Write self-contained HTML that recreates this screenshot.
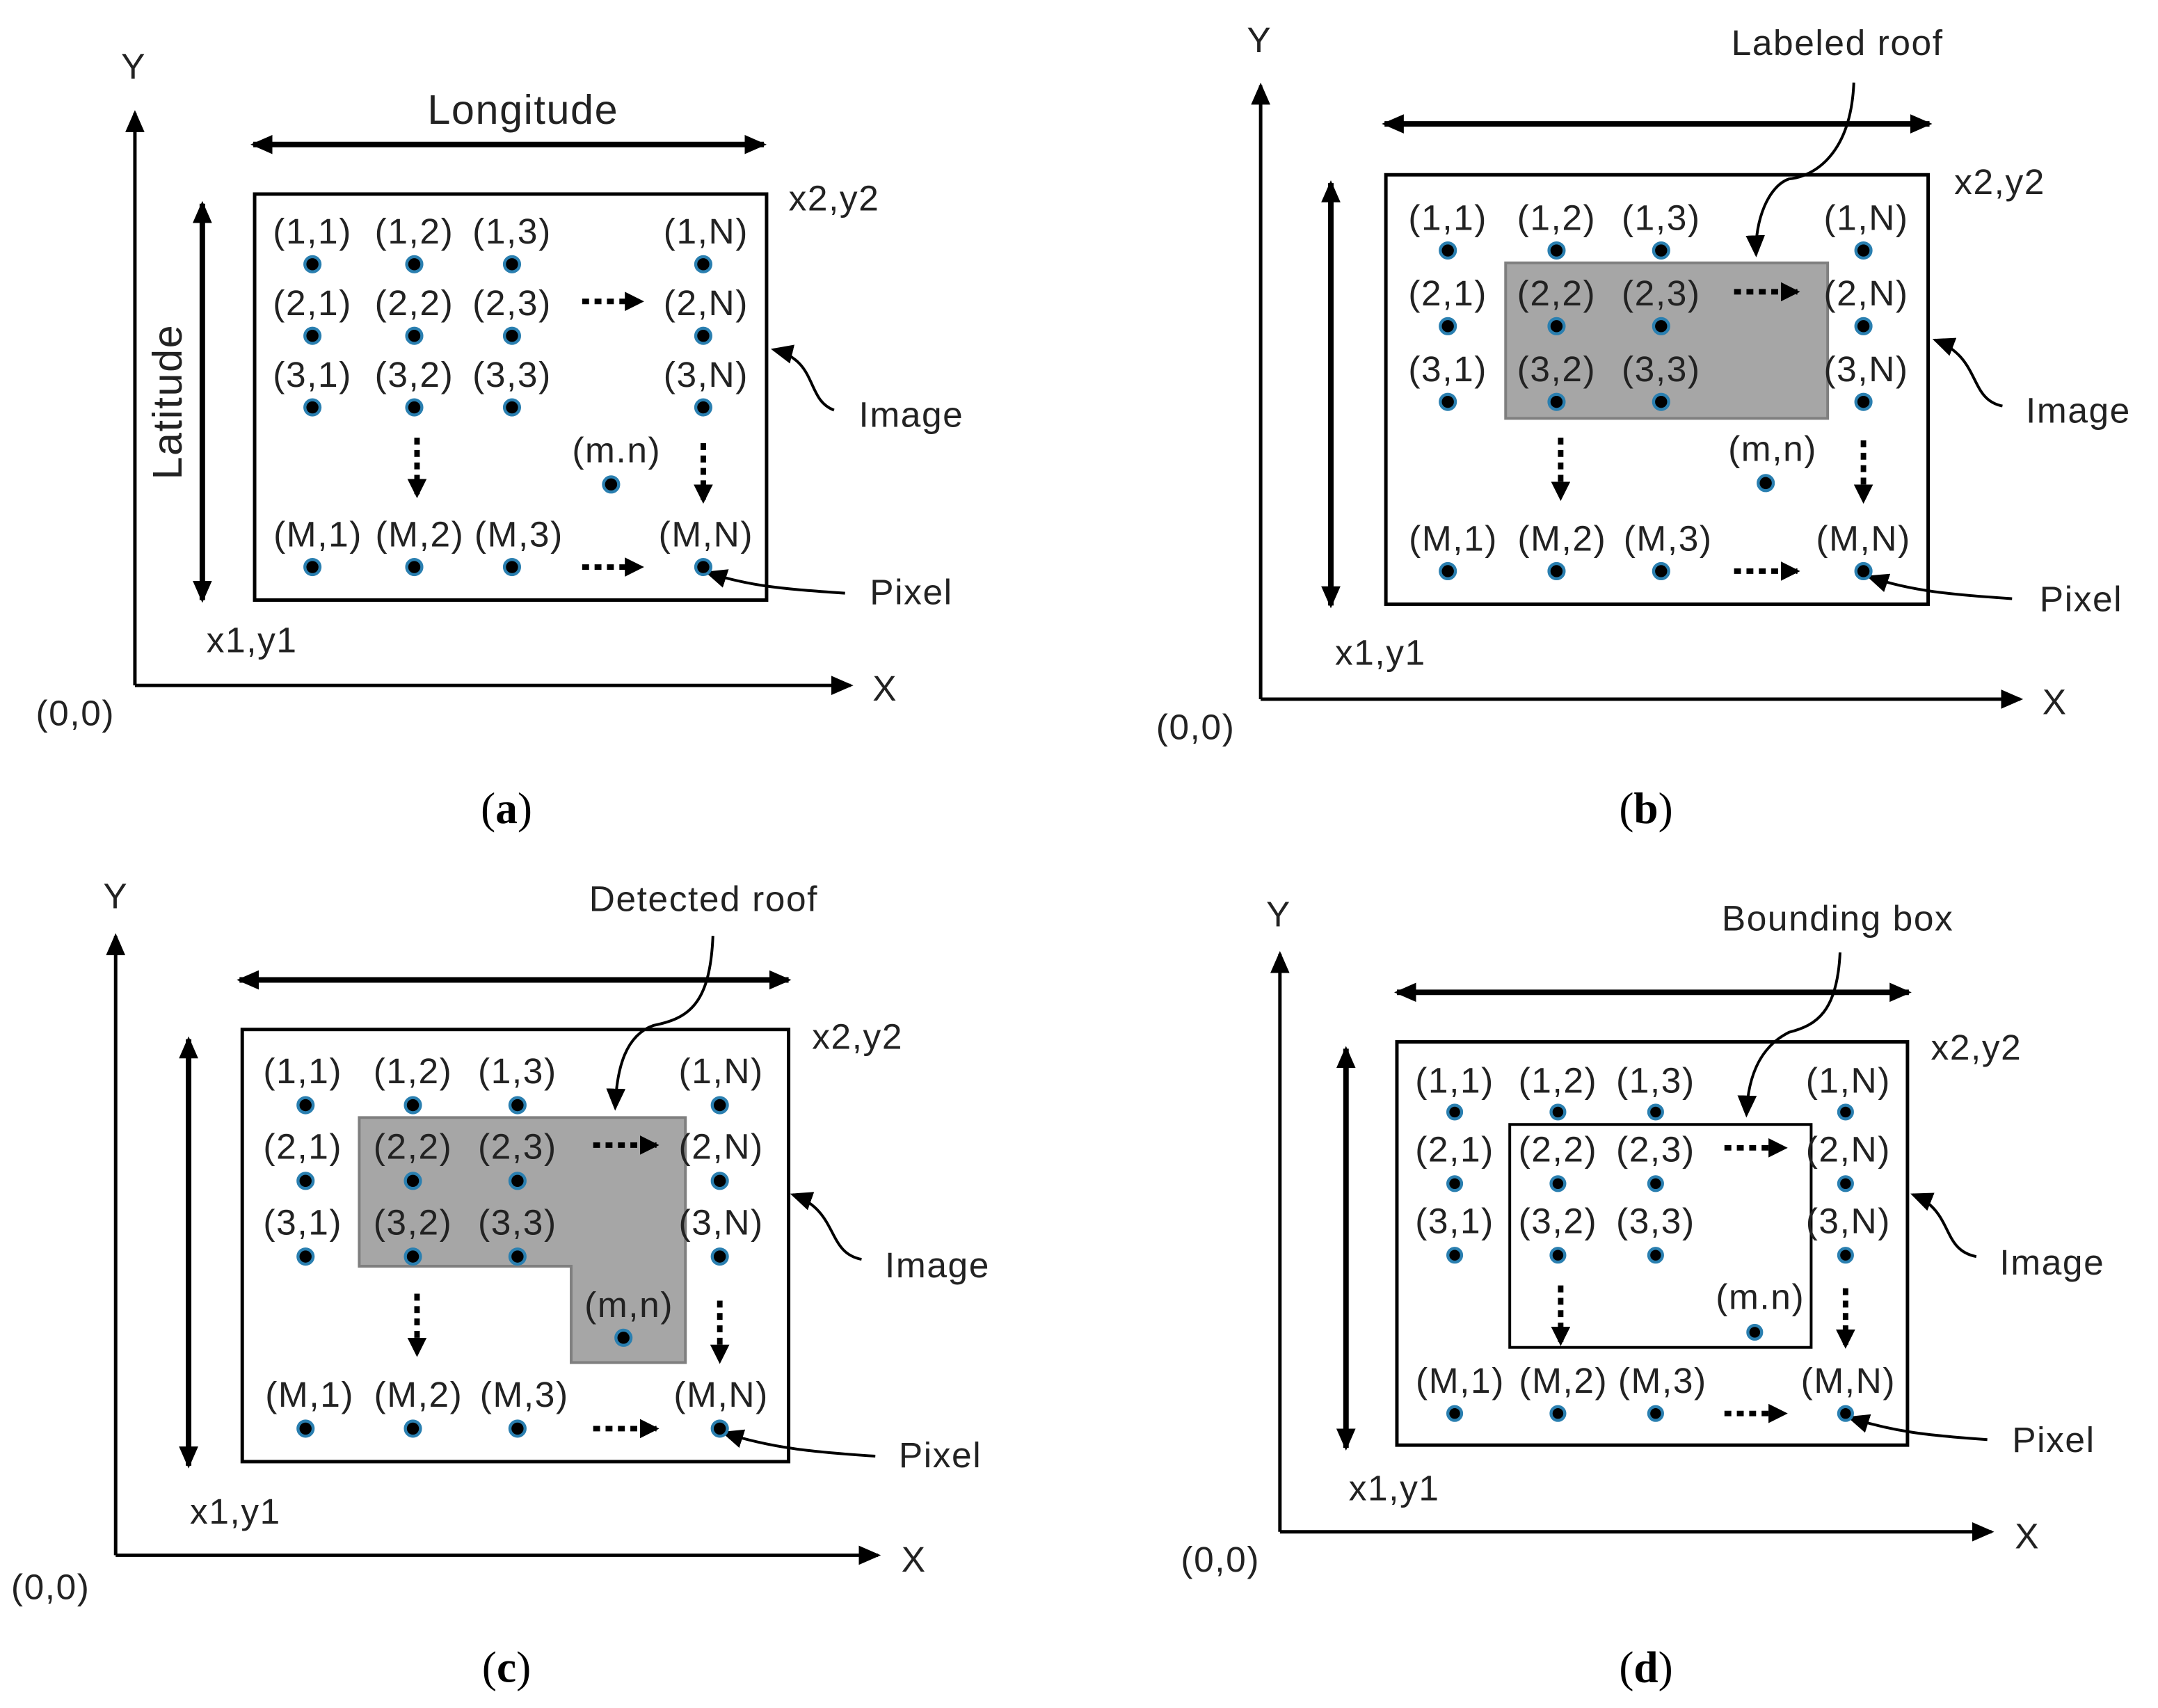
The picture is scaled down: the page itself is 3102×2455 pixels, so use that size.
<!DOCTYPE html>
<html><head><meta charset="utf-8"><style>
html,body{margin:0;padding:0;background:#fff}
svg{display:block}
text{font-family:"Liberation Sans","DejaVu Sans",sans-serif;fill:#222}
.t{font-size:26px;text-anchor:middle;letter-spacing:0.8px}
.l{font-size:26px;letter-spacing:0.8px}
.cap{font-family:"Liberation Serif",serif;font-size:32px;text-anchor:middle;fill:#000}
.ax{stroke:#000;stroke-width:2.5;fill:none}
.dbl{stroke:#000;stroke-width:4;fill:none}
.box{stroke:#000;stroke-width:2.5;fill:#fff}
.dot{fill:#000;stroke:#2a7fb0;stroke-width:2.2}
.dsh{stroke:#000;stroke-width:4;stroke-dasharray:5 4;fill:none}
.cv{stroke:#000;stroke-width:2;fill:none}
</style></head><body>
<svg width="3102" height="2455" viewBox="0 0 1568 1241" xmlns="http://www.w3.org/2000/svg">
<defs>
<marker id="a" markerUnits="userSpaceOnUse" markerWidth="16" markerHeight="14" refX="14" refY="7" orient="auto"><path d="M0,0 L16,7 L0,14 Z" fill="#000"/></marker>
<marker id="as" markerUnits="userSpaceOnUse" markerWidth="16" markerHeight="14" refX="14" refY="7" orient="auto-start-reverse"><path d="M0,0 L16,7 L0,14 Z" fill="#000"/></marker>
<marker id="d" markerUnits="userSpaceOnUse" markerWidth="14" markerHeight="14" refX="12" refY="7" orient="auto"><path d="M0,0 L14,7 L0,14 Z" fill="#000"/></marker>
</defs>

<!-- ===== (a) ===== -->
<line class="ax" x1="98" y1="498" x2="98" y2="82" marker-end="url(#a)"/>
<line class="ax" x1="98" y1="498" x2="618" y2="498" marker-end="url(#a)"/>
<text class="l" x="88" y="57">Y</text>
<text class="l" x="634" y="509">X</text>
<text class="l" x="26" y="527">(0,0)</text>
<line class="dbl" x1="184" y1="105" x2="555" y2="105" marker-start="url(#as)" marker-end="url(#a)"/>
<text class="t" x="380" y="90" style="font-size:30px">Longitude</text>
<line class="dbl" x1="147" y1="148" x2="147" y2="436" marker-start="url(#as)" marker-end="url(#a)"/>
<text class="t" x="132" y="292" style="font-size:30px" transform="rotate(-90 132 292)">Latitude</text>
<rect class="box" x="185" y="141" width="372" height="295"/>
<text class="l" x="573" y="153">x2,y2</text>
<text class="l" x="150" y="474">x1,y1</text>
<text class="l" x="624" y="310">Image</text>
<text class="l" x="632" y="439">Pixel</text>
<path class="cv" d="M606,298 C585,290 595,262 562,254" marker-end="url(#a)"/>
<path class="cv" d="M614,431 C570,428 545,426 514,416" marker-end="url(#a)"/>
<g>
<text class="t" x="227" y="177">(1,1)</text><text class="t" x="301" y="177">(1,2)</text><text class="t" x="372" y="177">(1,3)</text><text class="t" x="513" y="177">(1,N)</text>
<text class="t" x="227" y="229">(2,1)</text><text class="t" x="301" y="229">(2,2)</text><text class="t" x="372" y="229">(2,3)</text><text class="t" x="513" y="229">(2,N)</text>
<text class="t" x="227" y="281">(3,1)</text><text class="t" x="301" y="281">(3,2)</text><text class="t" x="372" y="281">(3,3)</text><text class="t" x="513" y="281">(3,N)</text>
<text class="t" x="448" y="336">(m.n)</text>
<text class="t" x="231" y="397">(M,1)</text><text class="t" x="305" y="397">(M,2)</text><text class="t" x="377" y="397">(M,3)</text><text class="t" x="513" y="397">(M,N)</text>
<circle class="dot" cx="227" cy="192" r="5.5"/><circle class="dot" cx="301" cy="192" r="5.5"/><circle class="dot" cx="372" cy="192" r="5.5"/><circle class="dot" cx="511" cy="192" r="5.5"/>
<circle class="dot" cx="227" cy="244" r="5.5"/><circle class="dot" cx="301" cy="244" r="5.5"/><circle class="dot" cx="372" cy="244" r="5.5"/><circle class="dot" cx="511" cy="244" r="5.5"/>
<circle class="dot" cx="227" cy="296" r="5.5"/><circle class="dot" cx="301" cy="296" r="5.5"/><circle class="dot" cx="372" cy="296" r="5.5"/><circle class="dot" cx="511" cy="296" r="5.5"/>
<circle class="dot" cx="444" cy="352" r="5.5"/>
<circle class="dot" cx="227" cy="412" r="5.5"/><circle class="dot" cx="301" cy="412" r="5.5"/><circle class="dot" cx="372" cy="412" r="5.5"/><circle class="dot" cx="511" cy="412" r="5.5"/>
<line class="dsh" x1="423" y1="219" x2="466" y2="219" marker-end="url(#d)"/>
<line class="dsh" x1="423" y1="412" x2="466" y2="412" marker-end="url(#d)"/>
<line class="dsh" x1="303" y1="318" x2="303" y2="360" marker-end="url(#d)"/>
<line class="dsh" x1="511" y1="322" x2="511" y2="364" marker-end="url(#d)"/>
</g>
<text class="cap" x="368" y="598">(<tspan font-weight="bold">a</tspan>)</text>

<!-- ===== (b) ===== -->
<line class="ax" x1="916" y1="508" x2="916" y2="62" marker-end="url(#a)"/>
<line class="ax" x1="916" y1="508" x2="1468" y2="508" marker-end="url(#a)"/>
<text class="l" x="906" y="38">Y</text>
<text class="l" x="1484" y="519">X</text>
<text class="l" x="840" y="537">(0,0)</text>
<line class="dbl" x1="1006" y1="90" x2="1402" y2="90" marker-start="url(#as)" marker-end="url(#a)"/>
<line class="dbl" x1="967" y1="133" x2="967" y2="440" marker-start="url(#as)" marker-end="url(#a)"/>
<rect class="box" x="1007" y="127" width="394" height="312"/>
<rect x="1094" y="191" width="234" height="113" fill="#a6a6a6" stroke="#7f7f7f" stroke-width="2"/>
<text class="l" x="1258" y="40">Labeled roof</text>
<path class="cv" d="M1347,60 C1345,110 1320,128 1300,130 C1285,135 1275,160 1276,185" marker-end="url(#a)"/>
<text class="l" x="1420" y="141">x2,y2</text>
<text class="l" x="970" y="483">x1,y1</text>
<text class="l" x="1472" y="307">Image</text>
<text class="l" x="1482" y="444">Pixel</text>
<path class="cv" d="M1455,295 C1430,290 1440,260 1406,247" marker-end="url(#a)"/>
<path class="cv" d="M1462,435 C1420,432 1390,430 1358,419" marker-end="url(#a)"/>
<text class="t" x="1052" y="167">(1,1)</text><text class="t" x="1131" y="167">(1,2)</text><text class="t" x="1207" y="167">(1,3)</text><text class="t" x="1356" y="167">(1,N)</text>
<text class="t" x="1052" y="222">(2,1)</text><text class="t" x="1131" y="222">(2,2)</text><text class="t" x="1207" y="222">(2,3)</text><text class="t" x="1356" y="222">(2,N)</text>
<text class="t" x="1052" y="277">(3,1)</text><text class="t" x="1131" y="277">(3,2)</text><text class="t" x="1207" y="277">(3,3)</text><text class="t" x="1356" y="277">(3,N)</text>
<text class="t" x="1288" y="335">(m,n)</text>
<text class="t" x="1056" y="400">(M,1)</text><text class="t" x="1135" y="400">(M,2)</text><text class="t" x="1212" y="400">(M,3)</text><text class="t" x="1354" y="400">(M,N)</text>
<circle class="dot" cx="1052" cy="182" r="5.5"/><circle class="dot" cx="1131" cy="182" r="5.5"/><circle class="dot" cx="1207" cy="182" r="5.5"/><circle class="dot" cx="1354" cy="182" r="5.5"/>
<circle class="dot" cx="1052" cy="237" r="5.5"/><circle class="dot" cx="1131" cy="237" r="5.5"/><circle class="dot" cx="1207" cy="237" r="5.5"/><circle class="dot" cx="1354" cy="237" r="5.5"/>
<circle class="dot" cx="1052" cy="292" r="5.5"/><circle class="dot" cx="1131" cy="292" r="5.5"/><circle class="dot" cx="1207" cy="292" r="5.5"/><circle class="dot" cx="1354" cy="292" r="5.5"/>
<circle class="dot" cx="1283" cy="351" r="5.5"/>
<circle class="dot" cx="1052" cy="415" r="5.5"/><circle class="dot" cx="1131" cy="415" r="5.5"/><circle class="dot" cx="1207" cy="415" r="5.5"/><circle class="dot" cx="1354" cy="415" r="5.5"/>
<line class="dsh" x1="1260" y1="212" x2="1306" y2="212" marker-end="url(#d)"/>
<line class="dsh" x1="1260" y1="415" x2="1306" y2="415" marker-end="url(#d)"/>
<line class="dsh" x1="1134" y1="318" x2="1134" y2="362" marker-end="url(#d)"/>
<line class="dsh" x1="1354" y1="320" x2="1354" y2="364" marker-end="url(#d)"/>
<text class="cap" x="1196" y="598">(<tspan font-weight="bold">b</tspan>)</text>

<!-- ===== (c) ===== -->
<line class="ax" x1="84" y1="1130" x2="84" y2="680" marker-end="url(#a)"/>
<line class="ax" x1="84" y1="1130" x2="638" y2="1130" marker-end="url(#a)"/>
<text class="l" x="75" y="660">Y</text>
<text class="l" x="655" y="1142">X</text>
<text class="l" x="8" y="1162">(0,0)</text>
<line class="dbl" x1="174" y1="712" x2="573" y2="712" marker-start="url(#as)" marker-end="url(#a)"/>
<line class="dbl" x1="137" y1="755" x2="137" y2="1065" marker-start="url(#as)" marker-end="url(#a)"/>
<rect class="box" x="176" y="748" width="397" height="314"/>
<path d="M261,812 L498,812 L498,990 L415,990 L415,920 L261,920 Z" fill="#a6a6a6" stroke="#7f7f7f" stroke-width="2"/>
<text class="l" x="428" y="662">Detected roof</text>
<path class="cv" d="M518,680 C516,730 500,740 475,745 C455,752 448,775 447,805" marker-end="url(#a)"/>
<text class="l" x="590" y="762">x2,y2</text>
<text class="l" x="138" y="1107">x1,y1</text>
<text class="l" x="643" y="928">Image</text>
<text class="l" x="653" y="1066">Pixel</text>
<path class="cv" d="M626,915 C600,910 610,880 576,868" marker-end="url(#a)"/>
<path class="cv" d="M636,1058 C590,1055 560,1052 526,1041" marker-end="url(#a)"/>
<text class="t" x="220" y="787">(1,1)</text><text class="t" x="300" y="787">(1,2)</text><text class="t" x="376" y="787">(1,3)</text><text class="t" x="524" y="787">(1,N)</text>
<text class="t" x="220" y="842">(2,1)</text><text class="t" x="300" y="842">(2,2)</text><text class="t" x="376" y="842">(2,3)</text><text class="t" x="524" y="842">(2,N)</text>
<text class="t" x="220" y="897">(3,1)</text><text class="t" x="300" y="897">(3,2)</text><text class="t" x="376" y="897">(3,3)</text><text class="t" x="524" y="897">(3,N)</text>
<text class="t" x="457" y="957">(m,n)</text>
<text class="t" x="225" y="1022">(M,1)</text><text class="t" x="304" y="1022">(M,2)</text><text class="t" x="381" y="1022">(M,3)</text><text class="t" x="524" y="1022">(M,N)</text>
<circle class="dot" cx="222" cy="803" r="5.5"/><circle class="dot" cx="300" cy="803" r="5.5"/><circle class="dot" cx="376" cy="803" r="5.5"/><circle class="dot" cx="523" cy="803" r="5.5"/>
<circle class="dot" cx="222" cy="858" r="5.5"/><circle class="dot" cx="300" cy="858" r="5.5"/><circle class="dot" cx="376" cy="858" r="5.5"/><circle class="dot" cx="523" cy="858" r="5.5"/>
<circle class="dot" cx="222" cy="913" r="5.5"/><circle class="dot" cx="300" cy="913" r="5.5"/><circle class="dot" cx="376" cy="913" r="5.5"/><circle class="dot" cx="523" cy="913" r="5.5"/>
<circle class="dot" cx="453" cy="972" r="5.5"/>
<circle class="dot" cx="222" cy="1038" r="5.5"/><circle class="dot" cx="300" cy="1038" r="5.5"/><circle class="dot" cx="376" cy="1038" r="5.5"/><circle class="dot" cx="523" cy="1038" r="5.5"/>
<line class="dsh" x1="431" y1="832" x2="477" y2="832" marker-end="url(#d)"/>
<line class="dsh" x1="431" y1="1038" x2="477" y2="1038" marker-end="url(#d)"/>
<line class="dsh" x1="303" y1="940" x2="303" y2="984" marker-end="url(#d)"/>
<line class="dsh" x1="523" y1="945" x2="523" y2="989" marker-end="url(#d)"/>
<text class="cap" x="368" y="1222">(<tspan font-weight="bold">c</tspan>)</text>

<!-- ===== (d) ===== -->
<line class="ax" x1="930" y1="1113" x2="930" y2="693" marker-end="url(#a)"/>
<line class="ax" x1="930" y1="1113" x2="1447" y2="1113" marker-end="url(#a)"/>
<text class="l" x="920" y="673">Y</text>
<text class="l" x="1464" y="1125">X</text>
<text class="l" x="858" y="1142">(0,0)</text>
<line class="dbl" x1="1015" y1="721" x2="1387" y2="721" marker-start="url(#as)" marker-end="url(#a)"/>
<line class="dbl" x1="978" y1="762" x2="978" y2="1052" marker-start="url(#as)" marker-end="url(#a)"/>
<rect class="box" x="1015" y="757" width="371" height="293"/>
<rect x="1097" y="817" width="219" height="162" fill="#fff" stroke="#000" stroke-width="2"/>
<text class="l" x="1251" y="676">Bounding box</text>
<path class="cv" d="M1337,692 C1335,735 1320,745 1300,750 C1280,760 1270,780 1269,810" marker-end="url(#a)"/>
<text class="l" x="1403" y="770">x2,y2</text>
<text class="l" x="980" y="1090">x1,y1</text>
<text class="l" x="1453" y="926">Image</text>
<text class="l" x="1462" y="1055">Pixel</text>
<path class="cv" d="M1436,913 C1410,908 1420,880 1390,868" marker-end="url(#a)"/>
<path class="cv" d="M1444,1046 C1400,1043 1375,1040 1344,1030" marker-end="url(#a)"/>
<text class="t" x="1057" y="794">(1,1)</text><text class="t" x="1132" y="794">(1,2)</text><text class="t" x="1203" y="794">(1,3)</text><text class="t" x="1343" y="794">(1,N)</text>
<text class="t" x="1057" y="844">(2,1)</text><text class="t" x="1132" y="844">(2,2)</text><text class="t" x="1203" y="844">(2,3)</text><text class="t" x="1343" y="844">(2,N)</text>
<text class="t" x="1057" y="896">(3,1)</text><text class="t" x="1132" y="896">(3,2)</text><text class="t" x="1203" y="896">(3,3)</text><text class="t" x="1343" y="896">(3,N)</text>
<text class="t" x="1279" y="951">(m.n)</text>
<text class="t" x="1061" y="1012">(M,1)</text><text class="t" x="1136" y="1012">(M,2)</text><text class="t" x="1208" y="1012">(M,3)</text><text class="t" x="1343" y="1012">(M,N)</text>
<circle class="dot" cx="1057" cy="808" r="5"/><circle class="dot" cx="1132" cy="808" r="5"/><circle class="dot" cx="1203" cy="808" r="5"/><circle class="dot" cx="1341" cy="808" r="5"/>
<circle class="dot" cx="1057" cy="860" r="5"/><circle class="dot" cx="1132" cy="860" r="5"/><circle class="dot" cx="1203" cy="860" r="5"/><circle class="dot" cx="1341" cy="860" r="5"/>
<circle class="dot" cx="1057" cy="912" r="5"/><circle class="dot" cx="1132" cy="912" r="5"/><circle class="dot" cx="1203" cy="912" r="5"/><circle class="dot" cx="1341" cy="912" r="5"/>
<circle class="dot" cx="1275" cy="968" r="5"/>
<circle class="dot" cx="1057" cy="1027" r="5"/><circle class="dot" cx="1132" cy="1027" r="5"/><circle class="dot" cx="1203" cy="1027" r="5"/><circle class="dot" cx="1341" cy="1027" r="5"/>
<line class="dsh" x1="1253" y1="834" x2="1297" y2="834" marker-end="url(#d)"/>
<line class="dsh" x1="1253" y1="1027" x2="1297" y2="1027" marker-end="url(#d)"/>
<line class="dsh" x1="1134" y1="934" x2="1134" y2="976" marker-end="url(#d)"/>
<line class="dsh" x1="1341" y1="936" x2="1341" y2="978" marker-end="url(#d)"/>
<text class="cap" x="1196" y="1222">(<tspan font-weight="bold">d</tspan>)</text>
</svg>
</body></html>
